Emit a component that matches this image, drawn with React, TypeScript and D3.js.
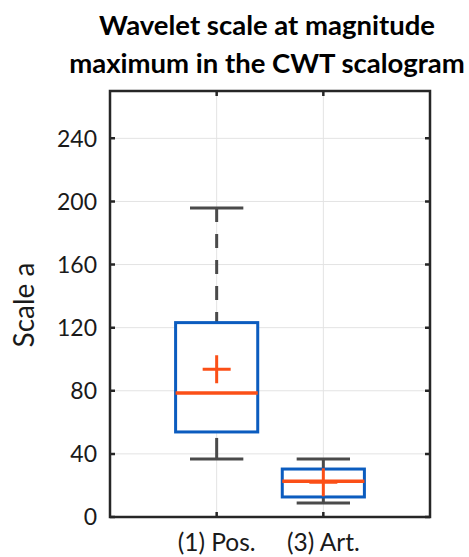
import { useEffect, useRef } from "react";
import * as d3 from "d3";

const categories = ["(1) Pos.", "(3) Art."];
const whiskerLow = [36.8, 8.9];
const q1 = [53.9, 12.7];
const median = [78.6, 22.6];
const q3 = [123.2, 30.4];
const whiskerHigh = [195.8, 36.8];
const means = [93.6, 22.0];
const yTicks = [0, 40, 80, 120, 160, 200, 240];
const titleLines = ["Wavelet scale at magnitude", "maximum in the CWT scalogram"];

export default function App() {
  const svgRef = useRef<SVGSVGElement>(null);

  useEffect(() => {
    if (!svgRef.current) return;
    const svg = d3.select(svgRef.current);
    svg.selectAll("*").remove();

    const width = 469;
    const height = 557;
    const margin = { top: 91, right: 39, bottom: 40, left: 110 };
    const innerW = width - margin.left - margin.right;
    const innerH = height - margin.top - margin.bottom;
    const font = "Lato, 'Open Sans', sans-serif";
    const axisColor = "#262626";

    const x = d3.scaleLinear().domain([0, 3]).range([0, innerW]);
    const y = d3.scaleLinear().domain([0, 270]).range([innerH, 0]);
    const data = categories.map((c, i) => ({
      c,
      pos: i + 1,
      lo: whiskerLow[i],
      q1: q1[i],
      med: median[i],
      q3: q3[i],
      hi: whiskerHigh[i],
      mean: means[i],
    }));

    svg.attr("viewBox", `0 0 ${width} ${height}`);
    const g = svg.append("g").attr("transform", `translate(${margin.left},${margin.top})`);

    // grid
    g.selectAll(".hgrid")
      .data(yTicks)
      .enter()
      .append("line")
      .attr("x1", 0)
      .attr("x2", innerW)
      .attr("y1", (d) => y(d))
      .attr("y2", (d) => y(d))
      .attr("stroke", "#e3e3e3")
      .attr("stroke-width", 1);
    g.selectAll(".vgrid")
      .data(data)
      .enter()
      .append("line")
      .attr("x1", (d) => x(d.pos))
      .attr("x2", (d) => x(d.pos))
      .attr("y1", 0)
      .attr("y2", innerH)
      .attr("stroke", "#e3e3e3")
      .attr("stroke-width", 1);

    const boxHalf = x(0.385) - x(0);
    const capHalf = x(0.25) - x(0);
    const plusHalf = 14;

    const box = g.selectAll(".box").data(data).enter().append("g");

    // whiskers
    box.append("line")
      .attr("x1", (d) => x(d.pos))
      .attr("x2", (d) => x(d.pos))
      .attr("y1", (d) => y(d.hi))
      .attr("y2", (d) => y(d.q3))
      .attr("stroke", "#4a4a4a")
      .attr("stroke-width", 3)
      .attr("stroke-dasharray", "14,12");
    box.append("line")
      .attr("x1", (d) => x(d.pos))
      .attr("x2", (d) => x(d.pos))
      .attr("y1", (d) => y(d.lo))
      .attr("y2", (d) => y(d.q1))
      .attr("stroke", "#4a4a4a")
      .attr("stroke-width", 3)
      .attr("stroke-dasharray", "21,12");
    box.selectAll(".cap")
      .data((d) => [d.lo, d.hi].map((v) => ({ v, pos: d.pos })))
      .enter()
      .append("line")
      .attr("x1", (d) => x(d.pos) - capHalf)
      .attr("x2", (d) => x(d.pos) + capHalf)
      .attr("y1", (d) => y(d.v))
      .attr("y2", (d) => y(d.v))
      .attr("stroke", "#4a4a4a")
      .attr("stroke-width", 3);

    // box
    box.append("rect")
      .attr("x", (d) => x(d.pos) - boxHalf)
      .attr("y", (d) => y(d.q3))
      .attr("width", boxHalf * 2)
      .attr("height", (d) => y(d.q1) - y(d.q3))
      .attr("fill", "white")
      .attr("stroke", "#0b5cbf")
      .attr("stroke-width", 3);

    // median
    box.append("line")
      .attr("x1", (d) => x(d.pos) - boxHalf)
      .attr("x2", (d) => x(d.pos) + boxHalf)
      .attr("y1", (d) => y(d.med))
      .attr("y2", (d) => y(d.med))
      .attr("stroke", "#fb4f17")
      .attr("stroke-width", 3.5);

    // mean marker
    box.append("path")
      .attr("d", (d) => {
        const cx = x(d.pos);
        const cy = y(d.mean);
        return `M${cx - plusHalf},${cy}H${cx + plusHalf}M${cx},${cy - plusHalf}V${cy + plusHalf}`;
      })
      .attr("fill", "none")
      .attr("stroke", "#fb4f17")
      .attr("stroke-width", 3);

    // axes frame
    g.append("rect")
      .attr("x", 0)
      .attr("y", 0)
      .attr("width", innerW)
      .attr("height", innerH)
      .attr("fill", "none")
      .attr("stroke", axisColor)
      .attr("stroke-width", 2.5);

    const tickLen = 5;
    g.selectAll(".ytl")
      .data(yTicks)
      .enter()
      .append("path")
      .attr("d", (d) => `M0,${y(d)}h${tickLen}M${innerW},${y(d)}h${-tickLen}`)
      .attr("stroke", axisColor)
      .attr("stroke-width", 2.5);
    g.selectAll(".xtl")
      .data(data)
      .enter()
      .append("path")
      .attr("d", (d) => `M${x(d.pos)},${innerH}v${-tickLen}M${x(d.pos)},0v${tickLen}`)
      .attr("stroke", axisColor)
      .attr("stroke-width", 2.5);

    // tick labels
    g.selectAll(".ylab")
      .data(yTicks)
      .enter()
      .append("text")
      .attr("x", -13)
      .attr("y", (d) => y(d))
      .attr("dy", "0.36em")
      .attr("text-anchor", "end")
      .attr("font-family", font)
      .attr("font-size", 23)
      .attr("fill", "#1a1a1a")
      .text((d) => d);
    g.selectAll(".xlab")
      .data(data)
      .enter()
      .append("text")
      .attr("x", (d) => x(d.pos))
      .attr("y", innerH + 34)
      .attr("text-anchor", "middle")
      .attr("font-family", font)
      .attr("font-size", 24.5)
      .attr("fill", "#1a1a1a")
      .text((d) => d.c);

    // y label
    g.append("text")
      .attr("transform", `translate(${34 - margin.left},${innerH / 2 + 1}) rotate(-90)`)
      .attr("text-anchor", "middle")
      .attr("font-family", font)
      .attr("font-size", 28)
      .attr("fill", "#1a1a1a")
      .text("Scale a");

    // title
    svg.selectAll(".title")
      .data(titleLines)
      .enter()
      .append("text")
      .attr("x", 267)
      .attr("y", (_, i) => 35 + i * 38)
      .attr("text-anchor", "middle")
      .attr("font-family", font)
      .attr("font-weight", 700)
      .attr("font-size", 27.5)
      .attr("fill", "#000")
      .text((d) => d);
  }, []);

  return (
    <div style={{ position: "absolute", left: 0, top: 0, width: 469, height: 557, background: "white" }}>
      <svg ref={svgRef} width={469} height={557} style={{ display: "block" }} />
    </div>
  );
}
